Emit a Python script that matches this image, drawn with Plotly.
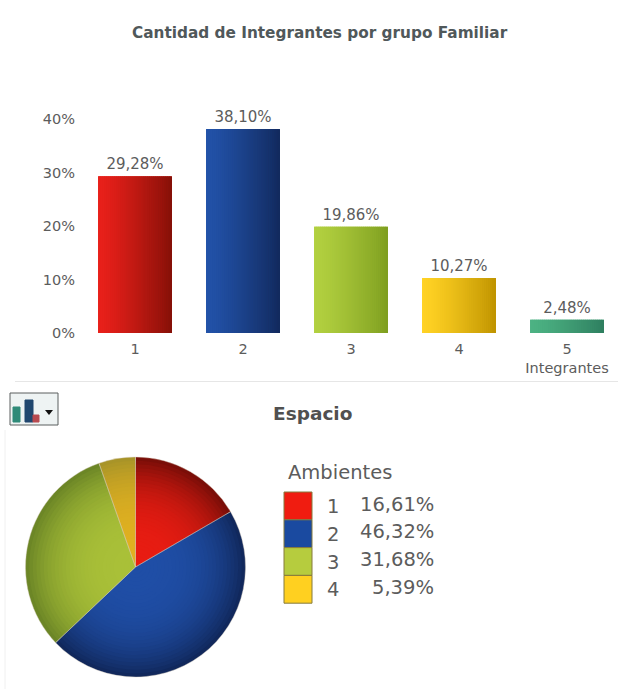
import plotly.graph_objects as go

W, H = 618, 689

# Cantidad de integrantes por grupo familiar
integrantes = [1, 2, 3, 4, 5]
pct_integrantes = [29.28, 38.10, 19.86, 10.27, 2.48]
etiquetas_x = ["1", "2", "3", "4", "5<br>Integrantes"]
ticks_y = [0, 10, 20, 30, 40]

# Espacio: ambientes por vivienda
ambientes = ["1", "2", "3", "4"]
pct_ambientes = [16.61, 46.32, 31.68, 5.39]

# Extremos de cada degradado (claro, oscuro)
tonos_barras = [("#e8201a", "#861008"), ("#2252a8", "#122a5e"), ("#b2d040", "#7f9f20"),
                ("#ffd224", "#c09400"), ("#4cb283", "#2f7f60")]
tonos_torta = [("#e81c12", "#7a0e08"), ("#1f4ea6", "#11285c"), ("#a9c038", "#6c8626"), ("#e0b020", "#a89428")]
muestras = ["#f01c10", "#1a4aa0", "#b6cc3e", "#ffd020"]

TEXTO = "#5c5c5c"
FUENTE = "DejaVu Sans"
ANCHO_BARRA = 0.68
TIRAS = 36
ANILLOS = 30


def px_x(x):
    return x / W


def px_y(y):
    return 1 - y / H


def mezcla(a, b, t):
    ca = [int(a[i:i + 2], 16) for i in (1, 3, 5)]
    cb = [int(b[i:i + 2], 16) for i in (1, 3, 5)]
    return "rgb(%d,%d,%d)" % tuple(round(p + (q - p) * t) for p, q in zip(ca, cb))


fig = go.Figure()

# Barra base: lleva la etiqueta de valor
fig.add_trace(go.Bar(
    x=integrantes, y=pct_integrantes, width=ANCHO_BARRA,
    marker=dict(color=[t[0] for t in tonos_barras], line_width=0),
    texttemplate="%{y:.2f}%", textposition="outside", cliponaxis=False,
    textfont=dict(family=FUENTE, size=15, color=TEXTO), hoverinfo="skip",
))

# Tiras verticales que dan el degradado de izquierda a derecha
for k in range(TIRAS):
    t = k / (TIRAS - 1)
    desp = (t - 0.5) * ANCHO_BARRA * (TIRAS - 1) / TIRAS
    fig.add_trace(go.Bar(
        x=[v + desp for v in integrantes], y=pct_integrantes,
        width=ANCHO_BARRA / TIRAS * 1.25,
        marker=dict(color=[mezcla(c[0], c[1], t ** 1.3) for c in tonos_barras], line_width=0),
        hoverinfo="skip",
    ))

# Torta: discos concéntricos, del borde oscuro al centro claro
CX, CY, R = 135.5, 567, 110
for k in range(ANILLOS):
    f = 1 - k / ANILLOS
    r = R * f
    t = min(1, (f ** 3.2))
    fig.add_trace(go.Pie(
        values=pct_ambientes, labels=ambientes, sort=False, direction="clockwise", rotation=0,
        domain=dict(x=[px_x(CX - r), px_x(CX + r)], y=[px_y(CY + r), px_y(CY - r)]),
        marker=dict(colors=[mezcla(c[0], c[1], t) for c in tonos_torta], line_width=0),
        textinfo="none", hoverinfo="skip", showlegend=False,
    ))

# Filete claro entre porciones
fig.add_trace(go.Pie(
    values=pct_ambientes, labels=ambientes, sort=False, direction="clockwise", rotation=0,
    domain=dict(x=[px_x(CX - R), px_x(CX + R)], y=[px_y(CY + R), px_y(CY - R)]),
    marker=dict(colors=["rgba(0,0,0,0)"] * 4, line=dict(color="rgba(215,205,190,0.4)", width=1)),
    textinfo="none", hoverinfo="skip", showlegend=False,
))


def texto(x, y, s, size=19.5, anchor="left", color=TEXTO):
    return dict(x=px_x(x), y=px_y(y), xref="paper", yref="paper", text=s, showarrow=False,
                xanchor=anchor, yanchor="middle",
                font=dict(family=FUENTE, size=size, color=color))


anotaciones = [
    texto(319.5, 33, "<b>Cantidad de Integrantes por grupo Familiar</b>", 15.3, "center", "#50585a"),
    texto(312, 413, "<b>Espacio</b>", 18.5, "center", "#505050"),
    texto(286, 472, "Ambientes", 19.5),
]

formas = [
    dict(type="line", xref="paper", yref="paper", x0=px_x(15), x1=1, y0=px_y(381.5), y1=px_y(381.5),
         line=dict(color="#e6e6e6", width=1)),
    dict(type="line", xref="paper", yref="paper", x0=px_x(5), x1=px_x(5), y0=0, y1=px_y(430),
         line=dict(color="#f0f0f0", width=1)),
]

# Leyenda de ambientes
Y0, PASO = 492, 27.8
for i, (amb, val) in enumerate(zip(ambientes, pct_ambientes)):
    y = Y0 + i * PASO
    formas.append(dict(type="rect", xref="paper", yref="paper",
                       x0=px_x(284), x1=px_x(312), y0=px_y(y), y1=px_y(y + PASO),
                       fillcolor=muestras[i], line=dict(color="#857a3c", width=1)))
    anotaciones.append(texto(333, y + 14.5, amb, anchor="center"))
    anotaciones.append(texto(436, y + 12, f"{val:.2f}%".replace(".", ","), anchor="right"))

# Botón de tipo de gráfico
boton = [(10, 393, 58, 425, "#eef3f3", "#5a5f5f"), (13, 407, 20, 422, "#2f8a78", "#2f8a78"),
         (25, 400, 33, 422, "#20476f", "#20476f"), (33, 415, 39, 422, "#b84a50", "#b84a50")]
for x0, y0, x1, y1, relleno, borde in boton:
    formas.append(dict(type="rect", xref="paper", yref="paper",
                       x0=px_x(x0), x1=px_x(x1), y0=px_y(y0), y1=px_y(y1),
                       fillcolor=relleno, line=dict(color=borde, width=1)))
formas.append(dict(type="path", xref="paper", yref="paper", fillcolor="#111111", line_width=0,
                   path=f"M {px_x(45)} {px_y(410)} L {px_x(53)} {px_y(410)} L {px_x(49)} {px_y(415)} Z"))

fig.update_layout(
    width=W, height=H, margin=dict(l=0, r=0, t=0, b=0, autoexpand=False),
    paper_bgcolor="white", plot_bgcolor="white",
    barmode="overlay", showlegend=False, separators=", ",
    annotations=anotaciones, shapes=formas,
    xaxis=dict(domain=[px_x(81), 1], range=[0.5, 5.472], tickmode="array", automargin=False,
               tickvals=integrantes, ticktext=etiquetas_x, showgrid=False, zeroline=False,
               showline=False, ticks="outside", ticklen=3, tickcolor="rgba(0,0,0,0)",
               tickfont=dict(family=FUENTE, size=14.5, color=TEXTO)),
    yaxis=dict(domain=[px_y(333), px_y(90)], range=[0, 45.4], tickmode="array", automargin=False,
               tickvals=ticks_y, ticktext=[f"{v}%" for v in ticks_y], showgrid=False, zeroline=False,
               showline=False, ticks="outside", ticklen=2, tickcolor="rgba(0,0,0,0)",
               tickfont=dict(family=FUENTE, size=14.5, color=TEXTO)),
)

fig.write_html("out.html", config=dict(displayModeBar=False))
